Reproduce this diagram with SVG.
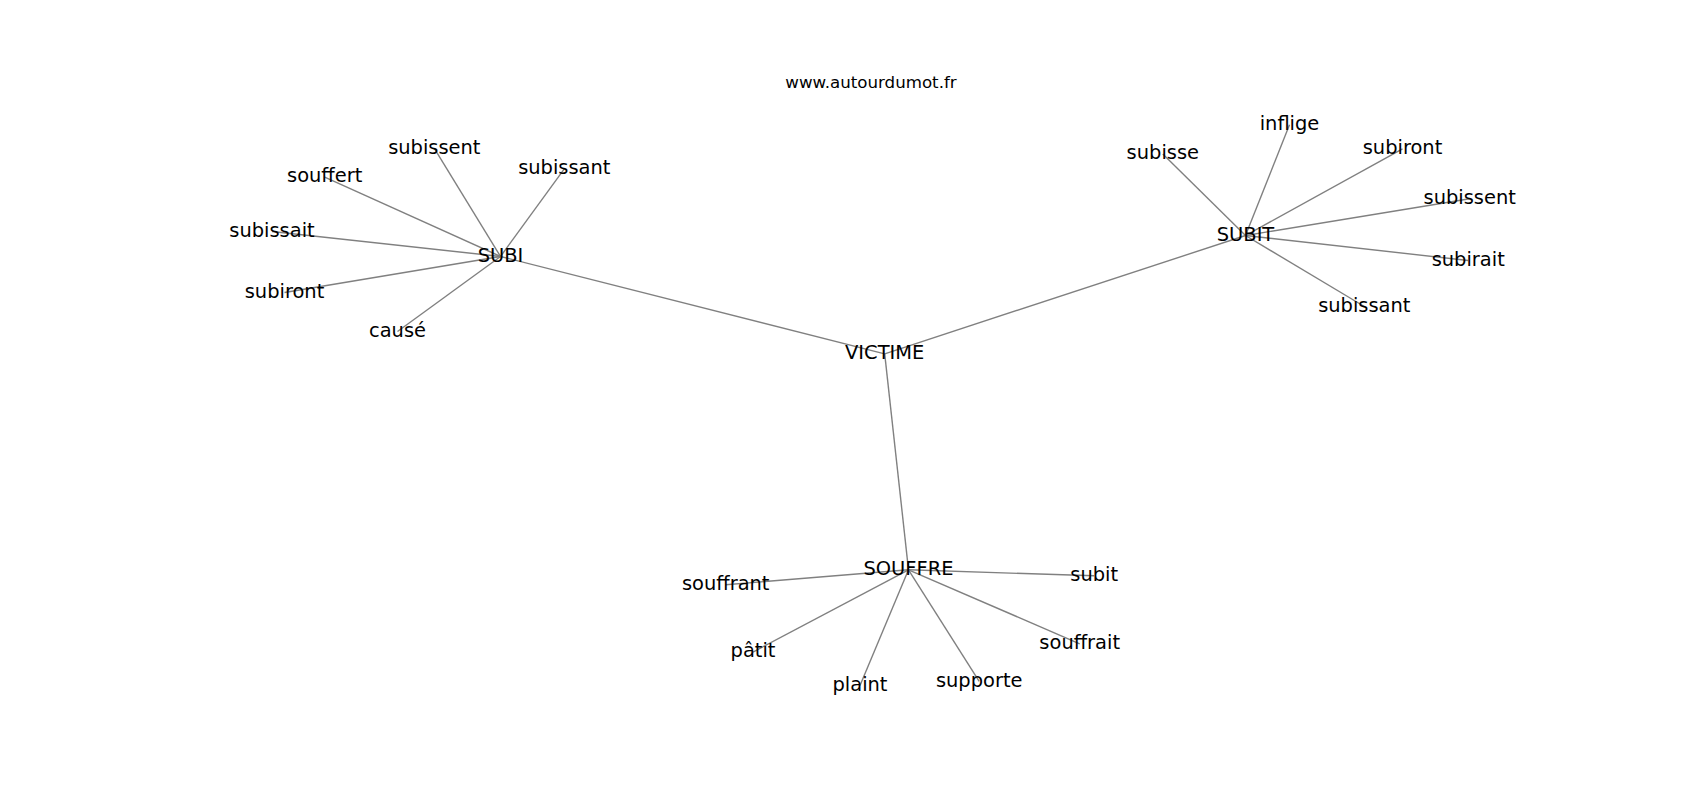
<svg xmlns="http://www.w3.org/2000/svg" width="1700" height="800" viewBox="0 0 1700 800">
<style>
.lbl{font-family:"DejaVu Sans",sans-serif;font-size:19.44px;fill:#000;text-anchor:middle}
.title{font-family:"DejaVu Sans",sans-serif;font-size:16.67px;fill:#000;text-anchor:middle}
.edges line{stroke:#808080;stroke-width:1.39}
</style>
<rect width="1700" height="800" fill="#fff"/>
<text class="title" x="871" y="88">www.autourdumot.fr</text>
<g class="edges" id="edges">
<line x1="884.7" y1="353.8" x2="500.5" y2="256.5"/>
<line x1="884.7" y1="353.8" x2="1245.5" y2="235.5"/>
<line x1="884.7" y1="353.8" x2="908.5" y2="569.8"/>
<line x1="500.5" y1="256.5" x2="434.3" y2="148.3"/>
<line x1="500.5" y1="256.5" x2="324.7" y2="177.1"/>
<line x1="500.5" y1="256.5" x2="564.3" y2="168.8"/>
<line x1="500.5" y1="256.5" x2="272" y2="231.5"/>
<line x1="500.5" y1="256.5" x2="284.5" y2="292.5"/>
<line x1="500.5" y1="256.5" x2="397.5" y2="331.5"/>
<line x1="1245.5" y1="235.5" x2="1289.5" y2="124.8"/>
<line x1="1245.5" y1="235.5" x2="1162.8" y2="154.1"/>
<line x1="1245.5" y1="235.5" x2="1402.5" y2="148.8"/>
<line x1="1245.5" y1="235.5" x2="1469.7" y2="198.8"/>
<line x1="1245.5" y1="235.5" x2="1468.2" y2="260.5"/>
<line x1="1245.5" y1="235.5" x2="1364.3" y2="306.5"/>
<line x1="908.5" y1="569.8" x2="725.7" y2="584.8"/>
<line x1="908.5" y1="569.8" x2="1094.2" y2="575.8"/>
<line x1="908.5" y1="569.8" x2="753" y2="652.1"/>
<line x1="908.5" y1="569.8" x2="860" y2="685.4"/>
<line x1="908.5" y1="569.8" x2="979.2" y2="681.3"/>
<line x1="908.5" y1="569.8" x2="1079.7" y2="643.8"/>
</g>
<g id="n-victime"><text class="lbl" x="884.7" y="359">VICTIME</text></g>
<g id="n-subi"><text class="lbl" x="500.5" y="261.7">SUBI</text></g>
<g id="n-subit"><text class="lbl" x="1245.5" y="240.7">SUBIT</text></g>
<g id="n-souffre"><text class="lbl" x="908.5" y="575">SOUFFRE</text></g>
<g id="n-subi-subissent"><text class="lbl" x="434.3" y="153.5">subissent</text></g>
<g id="n-subi-souffert"><text class="lbl" x="324.7" y="182.3">souffert</text></g>
<g id="n-subi-subissant"><text class="lbl" x="564.3" y="174">subissant</text></g>
<g id="n-subi-subissait"><text class="lbl" x="272" y="236.7">subissait</text></g>
<g id="n-subi-subiront"><text class="lbl" x="284.5" y="297.7">subiront</text></g>
<g id="n-subi-cause"><text class="lbl" x="397.5" y="336.7">causé</text></g>
<g id="n-subit-inflige"><text class="lbl" x="1289.5" y="130">inflige</text></g>
<g id="n-subit-subisse"><text class="lbl" x="1162.8" y="159.3">subisse</text></g>
<g id="n-subit-subiront"><text class="lbl" x="1402.5" y="154">subiront</text></g>
<g id="n-subit-subissent"><text class="lbl" x="1469.7" y="204">subissent</text></g>
<g id="n-subit-subirait"><text class="lbl" x="1468.2" y="265.7">subirait</text></g>
<g id="n-subit-subissant"><text class="lbl" x="1364.3" y="311.7">subissant</text></g>
<g id="n-souffre-souffrant"><text class="lbl" x="725.7" y="590">souffrant</text></g>
<g id="n-souffre-subit"><text class="lbl" x="1094.2" y="581">subit</text></g>
<g id="n-souffre-patit"><text class="lbl" x="753" y="657.3">pâtit</text></g>
<g id="n-souffre-plaint"><text class="lbl" x="860" y="690.6">plaint</text></g>
<g id="n-souffre-supporte"><text class="lbl" x="979.2" y="686.5">supporte</text></g>
<g id="n-souffre-souffrait"><text class="lbl" x="1079.7" y="649">souffrait</text></g>
</svg>
